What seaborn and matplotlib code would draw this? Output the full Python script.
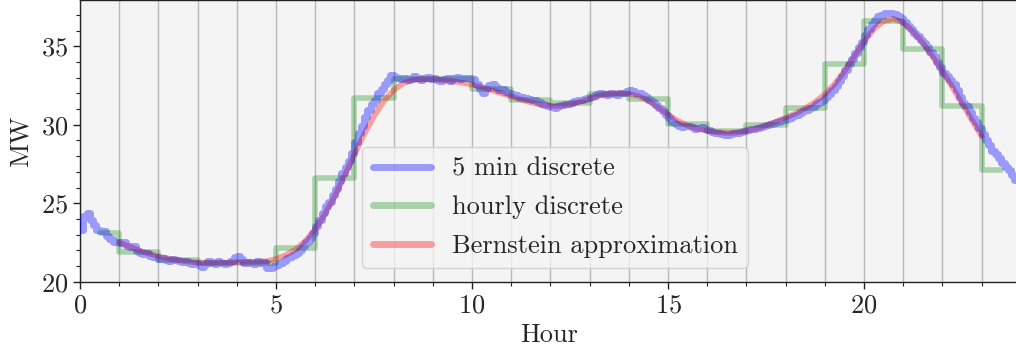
import numpy as np
import pandas as pd
import matplotlib
matplotlib.use("Agg")
import matplotlib.pyplot as plt
import seaborn as sns
from matplotlib.ticker import MultipleLocator

# ---- data ----
five_min_mw = [
    23.3, 24.2, 24.4, 23.9, 23.6, 23.3, 23.25, 23.2, 22.9, 22.7, 22.55, 22.5,
    22.45, 22.5, 22.3, 22.2, 22.25, 21.95, 21.8, 21.75, 21.8, 21.65, 21.6, 21.55,
    21.45, 21.5, 21.4, 21.35, 21.45, 21.4, 21.3, 21.25, 21.3, 21.2, 21.15, 21.2,
    21.05, 20.95, 21.1, 21.3, 21.2, 21.15, 21.3, 21.2, 21.1, 21.2, 21.35, 21.6,
    21.65, 21.45, 21.2, 21.25, 21.2, 21.15, 21.3, 21.2, 21.25, 20.85, 20.9, 21.0,
    21.05, 21.2, 21.35, 21.5, 21.6, 21.7, 21.85, 22.0, 22.25, 22.5, 22.8, 23.1,
    23.55, 23.9, 24.35, 24.8, 25.1, 25.5, 25.9, 26.4, 26.9, 27.3, 27.7, 28.2,
    28.9, 29.5, 29.9, 30.5, 30.95, 31.3, 31.6, 32.0, 32.3, 32.6, 32.85, 33.15,
    33.05, 32.95, 32.9, 33.0, 32.85, 32.9, 33.1, 32.95, 32.85, 32.95, 33.05, 32.9,
    33.0, 32.85, 32.8, 32.9, 32.95, 32.8, 32.95, 33.05, 32.9, 32.95, 33.0, 32.95,
    32.9, 32.6, 32.3, 32.0, 32.35, 32.55, 32.6, 32.4, 32.2, 32.25, 32.1, 32.0,
    31.95, 31.9, 31.8, 31.75, 31.7, 31.65, 31.6, 31.55, 31.45, 31.35, 31.25, 31.2,
    31.15, 31.1, 31.2, 31.25, 31.3, 31.35, 31.4, 31.5, 31.55, 31.6, 31.65, 31.7,
    31.8, 31.85, 31.95, 32.0, 31.95, 31.9, 32.0, 31.95, 31.9, 32.0, 32.05, 32.15,
    32.2, 32.15, 32.05, 32.0, 31.9, 31.75, 31.6, 31.45, 31.25, 31.05, 30.85, 30.65,
    30.45, 30.2, 30.05, 29.9, 29.85, 29.9, 29.95, 29.85, 29.75, 29.8, 29.85, 29.7,
    29.65, 29.55, 29.5, 29.45, 29.4, 29.35, 29.35, 29.4, 29.45, 29.5, 29.55, 29.6,
    29.65, 29.7, 29.75, 29.8, 29.85, 29.9, 30.0, 30.05, 30.1, 30.2, 30.25, 30.3,
    30.35, 30.45, 30.55, 30.6, 30.75, 30.85, 30.95, 31.05, 31.15, 31.3, 31.45, 31.6,
    31.75, 31.95, 32.2, 32.5, 32.8, 33.1, 33.5, 33.85, 34.2, 34.6, 34.95, 35.3,
    35.7, 36.1, 36.45, 36.7, 36.95, 37.0, 37.1, 37.15, 37.1, 37.05, 36.9, 36.8,
    36.55, 36.3, 36.1, 35.85, 35.65, 35.4, 35.2, 34.95, 34.65, 34.35, 34.0, 33.65,
    33.3, 33.1, 32.85, 32.6, 32.2, 31.8, 31.4, 31.2, 30.8, 30.4, 30.15, 29.8,
    29.4, 29.0, 28.7, 28.3, 28.15, 27.9, 27.55, 27.3, 27.1, 26.8, 26.5, 26.2,
]

hourly_mw = [23.1, 21.9, 21.4, 21.2, 21.2, 22.15, 26.6, 31.7, 32.9, 32.9, 32.3, 31.6,
             31.4, 31.95, 31.65, 30.05, 29.6, 30.0, 31.1, 33.85, 36.6, 34.85, 31.2, 27.1]

bernstein_hours = [1.0, 1.25, 1.5, 1.75, 2.0, 2.25, 2.5, 2.75, 3.0, 3.25, 3.5, 3.75,
                   4.0, 4.25, 4.5, 4.75, 5.0, 5.25, 5.5, 5.75, 6.0, 6.25, 6.5, 6.75,
                   7.0, 7.25, 7.5, 7.75, 8.0, 8.25, 8.5, 8.75, 9.0, 9.25, 9.5, 9.75,
                   10.0, 10.25, 10.5, 10.75, 11.0, 11.25, 11.5, 11.75, 12.0, 12.25, 12.5, 12.75,
                   13.0, 13.25, 13.5, 13.75, 14.0, 14.25, 14.5, 14.75, 15.0, 15.25, 15.5, 15.75,
                   16.0, 16.25, 16.5, 16.75, 17.0, 17.25, 17.5, 17.75, 18.0, 18.25, 18.5, 18.75,
                   19.0, 19.25, 19.5, 19.75, 20.0, 20.25, 20.5, 20.75, 21.0, 21.25, 21.5, 21.75,
                   22.0, 22.25, 22.5, 22.75, 23.0]
bernstein_mw = [22.5, 22.25, 22.0, 21.8, 21.62, 21.48, 21.37, 21.28, 21.22, 21.2, 21.2, 21.22,
                21.25, 21.27, 21.27, 21.3, 21.45, 21.7, 22.05, 22.6, 23.35, 24.3, 25.45, 26.75,
                28.1, 29.4, 30.55, 31.5, 32.2, 32.65, 32.85, 32.9, 32.9, 32.85, 32.78, 32.68,
                32.55, 32.4, 32.2, 32.0, 31.8, 31.6, 31.42, 31.28, 31.2, 31.2, 31.28, 31.45,
                31.65, 31.85, 31.97, 32.02, 31.98, 31.82, 31.52, 31.1, 30.65, 30.25, 29.95, 29.75,
                29.62, 29.52, 29.48, 29.5, 29.6, 29.75, 29.95, 30.2, 30.45, 30.72, 31.05, 31.45,
                31.95, 32.6, 33.4, 34.35, 35.3, 36.1, 36.6, 36.75, 36.5, 35.95, 35.2, 34.35,
                33.4, 32.4, 31.35, 30.3, 29.25]

series_labels = ["5 min discrete", "hourly discrete", "Bernstein approximation"]

five_min_hours = np.arange(len(five_min_mw)) / 12.0
hourly_hours = np.arange(len(hourly_mw)) + 0.5

# ---- style ----
sns.set_theme(style="ticks")
plt.rcParams["font.family"] = ["cmr10", "DejaVu Serif"]
plt.rcParams["mathtext.fontset"] = "cm"
plt.rcParams["axes.formatter.use_mathtext"] = True
plt.rcParams["axes.unicode_minus"] = False

FS = 19

fig = plt.figure(figsize=(10.16, 3.5), dpi=100)
ax = fig.add_axes([80 / 1016, (350 - 281.7) / 350, 937.6 / 1016, 281.7 / 350])
ax.set_facecolor("#f4f4f4")

sns.lineplot(x=five_min_hours, y=five_min_mw, ax=ax, color="#0000ff", alpha=0.37,
             lw=5, drawstyle="steps-post", label=series_labels[0], zorder=3)
sns.lineplot(x=hourly_hours, y=hourly_mw, ax=ax, color="#008000", alpha=0.3,
             lw=4, drawstyle="steps-mid", label=series_labels[1], zorder=2)
sns.lineplot(x=bernstein_hours, y=bernstein_mw, ax=ax, color="#ff0000", alpha=0.35,
             lw=4, label=series_labels[2], zorder=2.5)

ax.set_xlim(0, 23 + 11 / 12)
ax.set_ylim(20, 37.95)
ax.xaxis.set_major_locator(MultipleLocator(5))
ax.xaxis.set_minor_locator(MultipleLocator(1))
ax.yaxis.set_major_locator(MultipleLocator(5))
ax.yaxis.set_minor_locator(MultipleLocator(1))
ax.grid(which="both", axis="x", color="#b8b8b8", lw=1.0, zorder=0)
ax.set_axisbelow(True)
ax.tick_params(which="both", direction="out", top=False, right=False, labelsize=FS,
               color="#222222")
ax.tick_params(which="major", length=5, width=1)
ax.tick_params(which="minor", length=3, width=0.8)
for s in ax.spines.values():
    s.set_color("#222222")
    s.set_linewidth(1.0)

ax.set_xlabel("Hour", fontsize=FS, labelpad=4)
ax.set_ylabel("MW", fontsize=FS, labelpad=6)

leg = ax.legend(loc="lower left", bbox_to_anchor=(0.301, 0.047), borderaxespad=0,
                fontsize=FS, handlelength=2.2, labelspacing=0.56, frameon=True,
                framealpha=0.8, facecolor="#f4f4f4", edgecolor="#cccccc")
for h in leg.get_lines():
    h.set_linewidth(5)

fig.savefig("out.png", dpi=100)
